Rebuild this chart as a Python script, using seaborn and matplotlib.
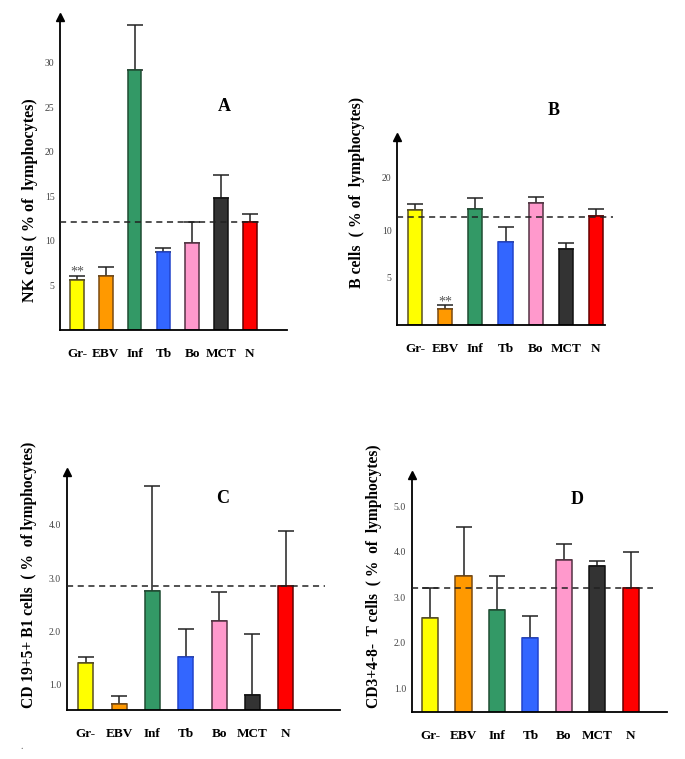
import numpy as np
import pandas as pd
import matplotlib
matplotlib.use("Agg")
import matplotlib.pyplot as plt
import seaborn as sns

sns.set_style("white")
plt.rcParams['font.family'] = ['Liberation Serif', 'DejaVu Serif']
plt.rcParams['text.color'] = 'black'
plt.rcParams['axes.labelcolor'] = 'black'
plt.rcParams['xtick.color'] = 'black'

categories = ["Gr-", "EBV", "Inf", "Tb", "Bo", "MCT", "N"]
bar_colors = ["#FFFF00", "#FF9900", "#339966", "#3366FF", "#FF99CC", "#333333", "#FF0000"]
edge_colors = ["#5A5020", "#7A4A10", "#1F4D33", "#2244CC", "#553344", "#111111", "#660000"]

# Panel A: NK cells
nk_mean = [5.6, 6.1, 29.2, 8.7, 9.8, 14.8, 12.1]
nk_upper = [6.1, 7.1, 34.2, 9.2, 12.1, 17.4, 13.0]
nk_ref = 12.1
nk_ticks = [5, 10, 15, 20, 25, 30]
nk_ticklabels = ["5", "10", "15", "20", "25", "30"]

# Panel B: B cells
b_mean = [12.1, 1.7, 12.2, 8.7, 12.8, 8.0, 11.45]
b_upper = [12.7, 2.1, 13.4, 10.3, 13.5, 8.6, 12.2]
b_ref = 11.4
b_ticks = [5, 10, 15.5]
b_ticklabels = ["5", "10", "20"]

# Panel C: CD19+5+ B1 cells
c_mean = [1.40, 0.63, 2.75, 1.52, 2.20, 0.80, 2.85]
c_upper = [1.52, 0.79, 4.73, 2.05, 2.74, 1.94, 3.89]
c_ref = 2.85
c_ticks = [1.0, 2.0, 3.0, 4.0]
c_ticklabels = ["1.0", "2.0", "3.0", "4.0"]

# Panel D: CD3+4-8- T cells
d_mean = [2.55, 3.47, 2.72, 2.10, 3.82, 3.69, 3.21]
d_upper = [3.20, 4.55, 3.47, 2.59, 4.17, 3.80, 3.99]
d_ref = 3.2
d_ticks = [1.0, 2.0, 3.0, 4.0, 5.0]
d_ticklabels = ["1.0", "2.0", "3.0", "4.0", "5.0"]

fig = plt.figure(figsize=(6.85, 7.59), dpi=100)

panels = [
    dict(rect=[0.0876, 0.5652, 0.331, 0.4124], mean=nk_mean, upper=nk_upper, ref=nk_ref,
         ticks=nk_ticks, tlabels=nk_ticklabels, ylim=(0, 35.1), xlim=(-0.59, 7.28), ref_end=6.35,
         ylabel="NK cells ( % of  lymphocytes)", ylabel_fs=11.6, letter="A", letter_pos=(5.1, 25.1),
         ylabel_xy=(-0.098, 0.415), stars=0, star_y=6.5, width=0.47),
    dict(rect=[0.5796, 0.5718, 0.3036, 0.2477], mean=b_mean, upper=b_upper, ref=b_ref,
         ticks=b_ticks, tlabels=b_ticklabels, ylim=(0, 19.8), xlim=(-0.6, 6.3), ref_end=6.55,
         ylabel="B cells  ( % of  lymphocytes)", ylabel_fs=11.3, letter="B", letter_pos=(4.6, 22.6),
         ylabel_xy=(-0.152, 0.707), stars=1, star_y=2.4, width=0.47),
    dict(rect=[0.0974, 0.0646, 0.399, 0.314], mean=c_mean, upper=c_upper, ref=c_ref,
         ticks=c_ticks, tlabels=c_ticklabels, ylim=(0.52, 5.0), xlim=(-0.57, 7.63), ref_end=7.18,
         ylabel="CD 19+5+ B1 cells  ( %  of lymphocytes)", ylabel_fs=11.2, letter="C", letter_pos=(4.1, 4.49),
         ylabel_xy=(-0.108, 0.567), stars=None, star_y=0, width=0.45),
    dict(rect=[0.601, 0.0615, 0.372, 0.3126], mean=d_mean, upper=d_upper, ref=d_ref,
         ticks=d_ticks, tlabels=d_ticklabels, ylim=(0.48, 5.68), xlim=(-0.55, 7.07), ref_end=6.66,
         ylabel="CD3+4-8-  T cells  ( %  of  lymphocytes)", ylabel_fs=11.2, letter="D", letter_pos=(4.4, 5.15),
         ylabel_xy=(-0.115, 0.572), stars=None, star_y=0, width=0.48),
]

for p in panels:
    ax = fig.add_axes(p["rect"])
    df = pd.DataFrame({"cat": categories, "val": p["mean"]})
    sns.barplot(data=df, x="cat", y="val", hue="cat", palette=bar_colors, legend=False,
                errorbar=None, width=p["width"], ax=ax, saturation=1)
    for patch, ec in zip(ax.patches, edge_colors):
        patch.set_edgecolor(ec)
        patch.set_linewidth(1.1)
        patch.set_zorder(2)
    xs = np.arange(len(categories))
    mean = np.array(p["mean"])
    up = np.array(p["upper"]) - mean
    ax.errorbar(xs, mean, yerr=[np.zeros_like(up), up], fmt="none", ecolor="#222222",
                elinewidth=1.1, capsize=6, capthick=1.1, zorder=1)
    ax.hlines(p["ref"], p["xlim"][0], p["ref_end"], colors="#222222", linestyles=(0, (4, 3)),
              linewidth=1.1, clip_on=False, zorder=3)
    ax.set_xlim(*p["xlim"])
    ax.set_ylim(*p["ylim"])
    ax.set_yticks(p["ticks"])
    ax.set_yticklabels(p["tlabels"], fontsize=7, color="#444444")
    ax.tick_params(axis="y", direction="out", length=3, width=0.8, color="#333333", pad=1)
    ax.tick_params(axis="x", length=0, pad=13)
    for lab in ax.get_xticklabels():
        lab.set_fontweight("bold")
        lab.set_fontsize(9.5)
        lab.set_color("black")
    ax.set_xlabel("")
    ax.set_ylabel(p["ylabel"], fontsize=p["ylabel_fs"], fontweight="bold", color="black")
    ax.yaxis.set_label_coords(*p["ylabel_xy"])
    for s in ["top", "right"]:
        ax.spines[s].set_visible(False)
    for s in ["left", "bottom"]:
        ax.spines[s].set_linewidth(1.3)
        ax.spines[s].set_color("black")
    ax.plot([0], [1], marker="^", markersize=6, color="black",
            transform=ax.transAxes, clip_on=False)
    ax.text(*p["letter_pos"], p["letter"], fontsize=13, fontweight="bold", color="black",
            ha="center", va="center", clip_on=False)
    if p["stars"] is not None:
        ax.text(p["stars"], p["star_y"], "**", fontsize=10, color="#555555",
                ha="center", va="center")

fig.text(0.029, 0.013, ".", fontsize=7, color="#555555")

fig.savefig("out.png", dpi=100)
